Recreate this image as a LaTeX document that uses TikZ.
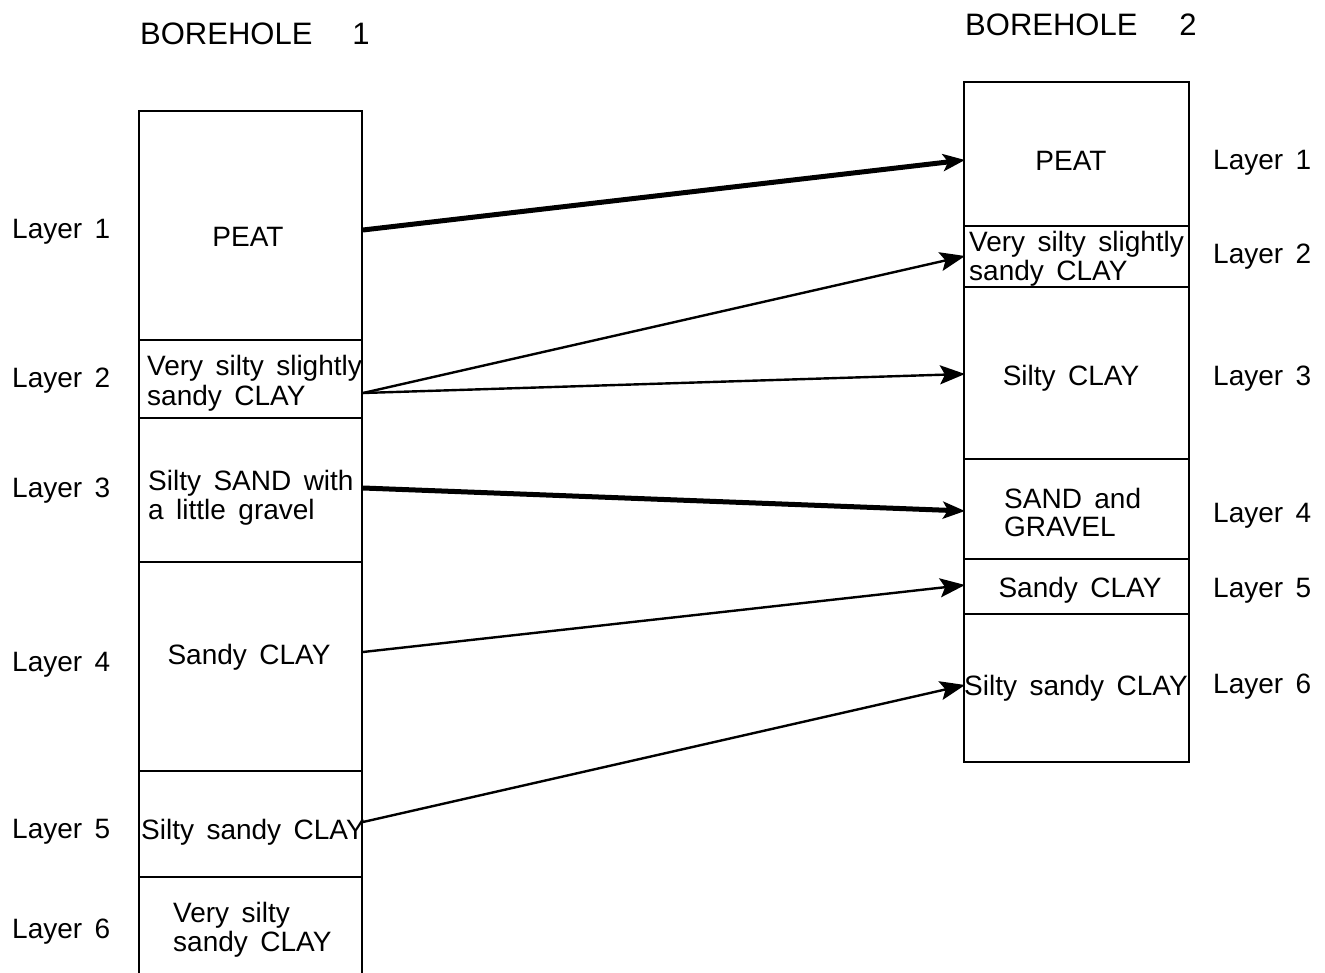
\documentclass[tikz,border=0pt]{standalone}
\usepackage{fontspec}
\setmainfont{Liberation Sans}[WordSpace=1.6]
\usetikzlibrary{arrows.meta}
\begin{document}
\begin{tikzpicture}[x=1pt,y=-1pt,
  lay/.style={draw,line width=2.5pt,inner sep=0pt},
  txt/.style={inner sep=0pt,font=\fontsize{28}{29}\selectfont},
  lbl/.style={txt,anchor=base west},
  ttl/.style={inner sep=0pt,anchor=base west,font=\fontsize{31}{33}\selectfont},
  thin/.style={line width=2.4pt,-{Stealth[length=25pt,width=19pt,inset=5pt]}},
  thick/.style={line width=5pt,-{Stealth[length=22pt,width=17pt,inset=5pt]}}]
\useasboundingbox (0,0) rectangle (1325,973);
% borehole 1 layers
\draw[lay] (139,111) rectangle (362,340);
\draw[lay] (139,340) rectangle (362,418);
\draw[lay] (139,418) rectangle (362,562);
\draw[lay] (139,562) rectangle (362,771);
\draw[lay] (139,771) rectangle (362,877);
\draw[lay] (139,877) rectangle (362,990);
% borehole 2 layers
\draw[lay] (964,82) rectangle (1189,226);
\draw[lay] (964,226) rectangle (1189,287);
\draw[lay] (964,287) rectangle (1189,459);
\draw[lay] (964,459) rectangle (1189,559);
\draw[lay] (964,559) rectangle (1189,614);
\draw[lay] (964,614) rectangle (1189,762);
% titles
\node[ttl] (t1) at (140,45) {BOREHOLE\hspace{40pt}1};
\node[ttl] (t2) at (965,36) {BOREHOLE\hspace{42pt}2};
% left layer labels
\node[lbl] (l1) at (12,239) {Layer 1};
\node[lbl] (l2) at (12,388) {Layer 2};
\node[lbl] (l3) at (12,497) {Layer 3};
\node[lbl] (l4) at (12,671) {Layer 4};
\node[lbl] (l5) at (12,838) {Layer 5};
\node[lbl] (l6) at (12,938) {Layer 6};
% right layer labels
\node[lbl] (r1) at (1213,170) {Layer 1};
\node[lbl] (r2) at (1213,264) {Layer 2};
\node[lbl] (r3) at (1213,385) {Layer 3};
\node[lbl] (r4) at (1213,522) {Layer 4};
\node[lbl] (r5) at (1213,597) {Layer 5};
\node[lbl] (r6) at (1213,693) {Layer 6};
% borehole 1 texts
\node[txt,anchor=base] (p1) at (248,247) {PEAT};
\node[lbl] (p2a) at (147,376) {Very silty slightly};
\node[lbl] (p2b) at (147,405) {sandy CLAY};
\node[lbl] (p3a) at (148,490) {Silty SAND with};
\node[lbl] (p3b) at (148,519) {a little gravel};
\node[txt,anchor=base] (p4) at (249,664) {Sandy CLAY};
\node[lbl] (p5) at (141,839) {Silty sandy CLAY};
\node[lbl] (p6a) at (173,922) {Very silty};
\node[lbl] (p6b) at (173,951) {sandy CLAY};
% borehole 2 texts
\node[txt,anchor=base] (q1) at (1071,171) {PEAT};
\node[lbl] (q2a) at (969,252) {Very silty slightly};
\node[lbl] (q2b) at (969,281) {sandy CLAY};
\node[txt,anchor=base] (q3) at (1071,385) {Silty CLAY};
\node[lbl] (q4a) at (1004,508) {SAND and};
\node[lbl] (q4b) at (1004,536) {GRAVEL};
\node[txt,anchor=base] (q5) at (1080,597) {Sandy CLAY};
\node[lbl] (q6) at (964,695) {Silty sandy CLAY};
% connector end points
\coordinate (a1) at (363,230);
\coordinate (a2) at (363,393);
\coordinate (a3) at (363,488);
\coordinate (a4) at (363,652);
\coordinate (a5) at (363,822);
\coordinate (c1) at (965,160);
\coordinate (c2) at (965,256);
\coordinate (c3) at (965,374);
\coordinate (c4) at (965,511);
\coordinate (c5) at (965,585);
\coordinate (c6) at (965,685);
% connectors
\draw[thick] (a1) -- (c1);
\draw[thin] (a2) -- (c2);
\draw[thin] (a2) -- (c3);
\draw[thick] (a3) -- (c4);
\draw[thin] (a4) -- (c5);
\draw[thin] (a5) -- (c6);
\end{tikzpicture}
\end{document}
